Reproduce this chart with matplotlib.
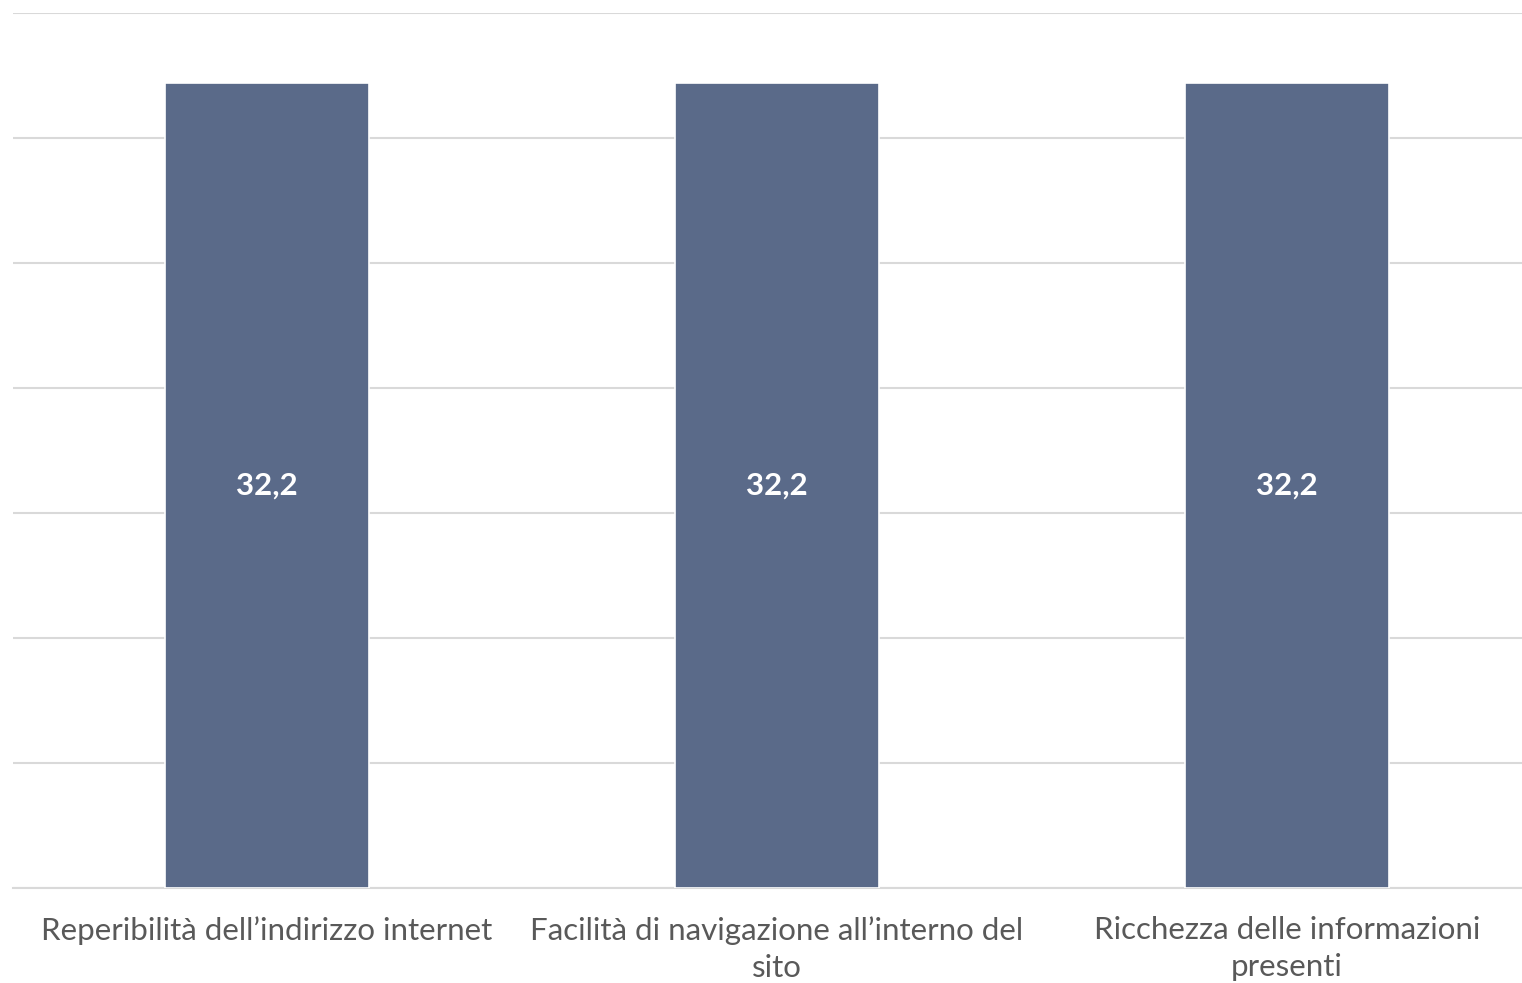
import matplotlib
matplotlib.use("Agg")
import matplotlib.pyplot as plt

categories = [
    "Reperibilità dell\u2019indirizzo internet",
    "Facilità di navigazione all\u2019interno del\nsito",
    "Ricchezza delle informazioni\npresenti",
]
values = [32.2, 32.2, 32.2]
value_labels = ["32,2", "32,2", "32,2"]
y_ticks = [0, 5, 10, 15, 20, 25, 30, 35]

W, H = 1522, 983
fig = plt.figure(figsize=(W / 100, H / 100), dpi=100)
ax = fig.add_axes([13 / W, 1 - 888 / H, (1522 - 13) / W, (888 - 13) / H])

x = list(range(len(categories)))
bars = ax.bar(x, values, width=0.4, color="#5A6A89", edgecolor="white",
              linewidth=1.2, zorder=3)

for rect, lab in zip(bars, value_labels):
    ax.text(rect.get_x() + rect.get_width() / 2, rect.get_height() / 2, lab,
            ha="center", va="center", color="white", fontsize=22.5,
            fontweight="bold", family="Lato", zorder=4)

ax.set_ylim(0, 35)
ax.set_xlim(-0.498, 2.461)
ax.set_yticks(y_ticks)
ax.yaxis.grid(True, color="#D9D9D9", linewidth=1.5, zorder=0)
ax.set_yticklabels([])
ax.tick_params(axis="y", length=0)
ax.tick_params(axis="x", length=0, pad=20)
ax.set_xticks(x)
ax.set_xticklabels(categories, fontsize=22.5, color="#595959", family="Lato",
                   linespacing=1.4)
for s in ["top", "right", "left"]:
    ax.spines[s].set_visible(False)
ax.spines["bottom"].set_color("#D9D9D9")
ax.spines["bottom"].set_linewidth(1.5)

fig.savefig("out.png", dpi=100)
